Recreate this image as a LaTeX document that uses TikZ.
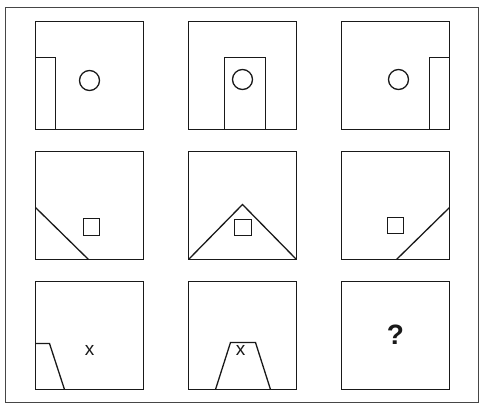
\documentclass[tikz,border=0pt]{standalone}
\usepackage{fontspec}
\setmainfont{Liberation Sans}
\usepackage{xcolor}
\usepackage{tikz}
\usetikzlibrary{positioning,calc}
\definecolor{inkc}{RGB}{25,25,25}
\definecolor{framec}{RGB}{70,70,70}
\tikzset{
  cell/.style={draw=inkc,line width=1.3pt,minimum size=108pt,inner sep=0pt,outer sep=0pt},
  fig/.style={draw=inkc,line width=1.3pt,line join=miter},
  frame/.style={draw=framec,line width=0.9pt},
  letter/.style={font=\fontsize{19}{19}\selectfont,text=inkc,inner sep=0pt},
  ask/.style={font=\fontsize{28}{28}\selectfont\bfseries,text=inkc,inner sep=0pt},
}

\begin{document}
\begin{tikzpicture}[x=1pt,y=-1pt,node distance=22pt and 45pt]
  \useasboundingbox (0,0) rectangle (480,405);
  \draw[frame] (5,7) rectangle (478,402);
  % row 1
  \node[cell] (c11) at (89.5,75.5) {};
  \node[cell,right=of c11] (c12) {};
  \node[cell,right=of c12] (c13) {};
  % row 2
  \node[cell,below=of c11] (c21) {};
  \node[cell,right=of c21] (c22) {};
  \node[cell,right=of c22] (c23) {};
  % row 3
  \node[cell,below=of c21] (c31) {};
  \node[cell,right=of c31] (c32) {};
  \node[cell,right=of c32] (c33) {};

  % doors and circles
  \draw[fig] (c11.south west) rectangle ($(c11.south west)+(20pt,72pt)$);
  \draw[fig] ($(c11.center)+(0pt,-5pt)$) circle[radius=10pt];
  \draw[fig] ($(c12.south west)+(36pt,0pt)$) rectangle ($(c12.south west)+(77pt,72pt)$);
  \draw[fig] ($(c12.center)+(0pt,-4pt)$) circle[radius=10pt];
  \draw[fig] (c13.south east) rectangle ($(c13.south east)+(-20pt,72pt)$);
  \draw[fig] ($(c13.center)+(3pt,-4pt)$) circle[radius=10pt];

  % roofs and squares
  \draw[fig] ($(c21.south west)+(0pt,52pt)$) -- ($(c21.south west)+(53pt,0pt)$);
  \draw[fig] ($(c21.south west)+(48pt,24pt)$) rectangle +(16pt,17pt);
  \draw[fig] (c22.south west) -- ($(c22.south west)+(54pt,55pt)$) -- (c22.south east);
  \draw[fig] ($(c22.south west)+(46pt,24pt)$) rectangle +(17pt,16pt);
  \draw[fig] ($(c23.south west)+(55pt,0pt)$) -- ($(c23.south east)+(0pt,52pt)$);
  \draw[fig] ($(c23.south west)+(46pt,26pt)$) rectangle +(16pt,16pt);

  % hills and letters
  \draw[fig] ($(c31.south west)+(0pt,46pt)$) -- ++(14pt,0pt) -- ($(c31.south west)+(29pt,0pt)$);
  \node[letter] (x31) at ($(c31.south west)+(54pt,39pt)$) {x};
  \draw[fig] ($(c32.south west)+(27pt,0pt)$) -- ++(15pt,47pt) -- ++(25pt,0pt) -- ($(c32.south west)+(82pt,0pt)$);
  \node[letter] (x32) at ($(c32.south west)+(52pt,39pt)$) {x};
  \node[ask] (q33) at ($(c33.center)+(0pt,1pt)$) {?};
\end{tikzpicture}
\end{document}
